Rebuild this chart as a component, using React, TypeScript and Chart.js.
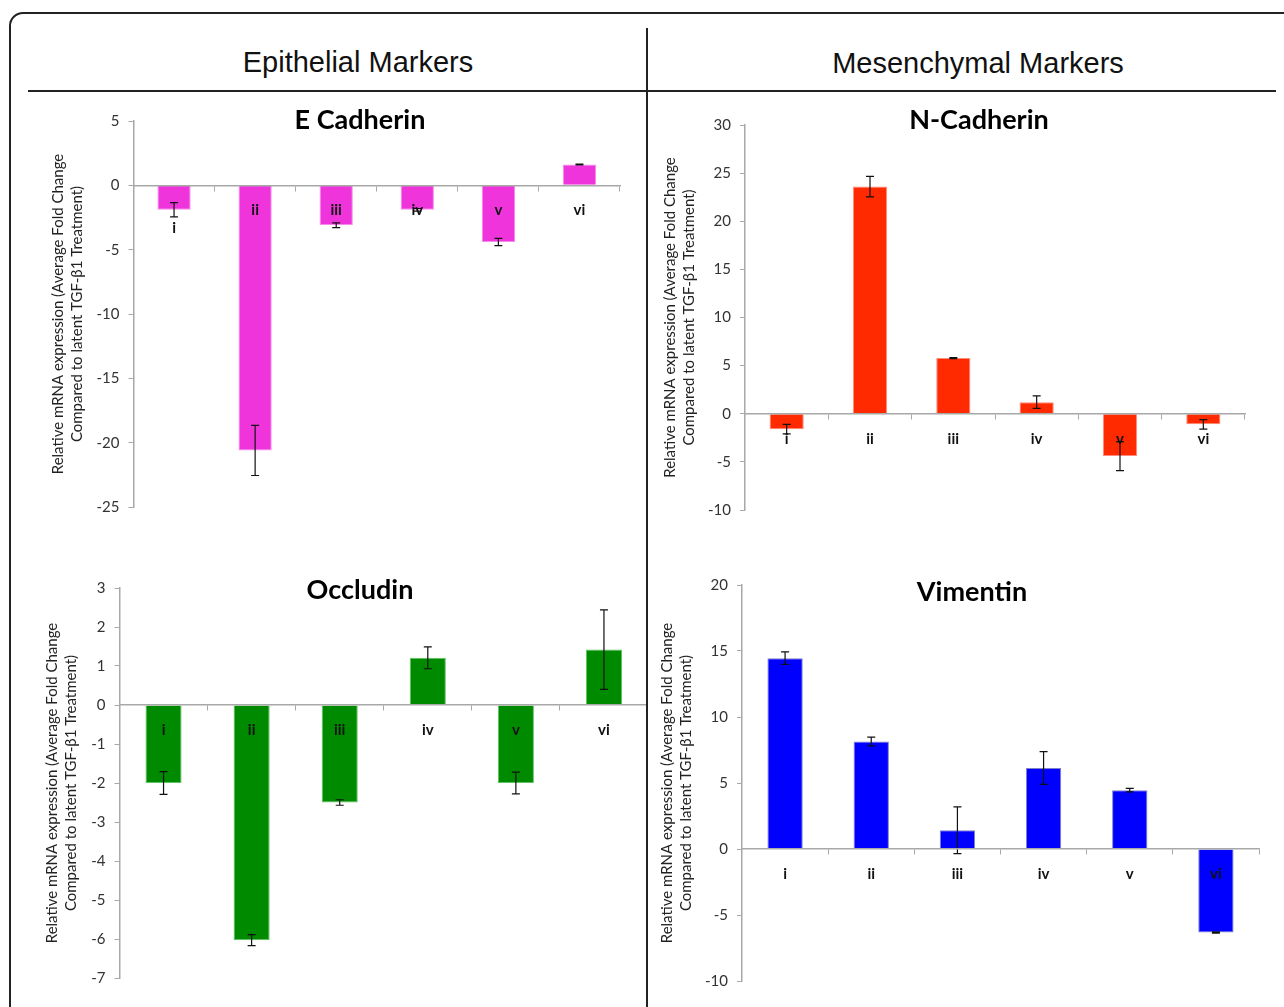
import React, { useEffect, useRef } from 'react';
import { Chart, registerables } from 'chart.js';

Chart.register(...registerables);

// ---------- data ----------
const categories = ['i', 'ii', 'iii', 'iv', 'v', 'vi'];
const eCadherinTickLabels: (string | string[])[] = [['', 'i'], 'ii', 'iii', 'iv', 'v', 'vi'];

const eCadherinValues = [-1.9, -20.6, -3.1, -1.9, -4.4, 1.62];
const eCadherinErrors = [0.55, 1.95, 0.18, 0.1, 0.28, 0.03];

const nCadherinValues = [-1.6, 23.6, 5.78, 1.2, -4.4, -1.1];
const nCadherinErrors = [0.5, 1.07, 0.05, 0.65, 1.5, 0.5];

const occludinValues = [-2.0, -6.03, -2.5, 1.21, -2.0, 1.42];
const occludinErrors = [0.29, 0.14, 0.07, 0.28, 0.28, 1.02];

const vimentinValues = [14.46, 8.15, 1.42, 6.13, 4.46, -6.33];
const vimentinErrors = [0.48, 0.33, 1.77, 1.24, 0.13, 0.05];

const yAxisTitle = [
  'Relative mRNA expression (Average Fold Change',
  'Compared to latent TGF-\u03B21 Treatment)',
];

const FONT = 'Lato, "Open Sans", sans-serif';

const errorBarPlugin = {
  id: 'errorBars',
  afterDatasetsDraw(chart: any, _args: any, opts: any) {
    const errs: number[] = opts && opts.errors;
    if (!errs) return;
    const meta = chart.getDatasetMeta(0);
    const yScale = chart.scales.y;
    const ctx = chart.ctx;
    const vals = chart.data.datasets[0].data as number[];
    ctx.save();
    ctx.strokeStyle = '#111';
    ctx.lineWidth = 1.2;
    meta.data.forEach((bar: any, i: number) => {
      const v = vals[i];
      const e = errs[i];
      const x = bar.x;
      const y1 = yScale.getPixelForValue(v + e);
      const y2 = yScale.getPixelForValue(v - e);
      ctx.beginPath();
      ctx.moveTo(x, y1);
      ctx.lineTo(x, y2);
      ctx.moveTo(x - 4, y1);
      ctx.lineTo(x + 4, y1);
      ctx.moveTo(x - 4, y2);
      ctx.lineTo(x + 4, y2);
      ctx.stroke();
    });
    ctx.restore();
  },
};

type Spec = {
  labels: (string | string[])[];
  values: number[];
  errors: number[];
  min: number;
  max: number;
  step: number;
  color: string;
  border: string;
  left: number;
  top: number;
  width: number;
  height: number;
  padding: { top: number; right: number; bottom: number; left: number };
  yWidth: number;
  titlePad: number;
};

function BarPanel({ spec }: { spec: Spec }) {
  const ref = useRef<HTMLCanvasElement | null>(null);
  useEffect(() => {
    if (!ref.current) return;
    const axisGrey = '#a8a8a8';
    const chart = new Chart(ref.current, {
      type: 'bar',
      data: {
        labels: spec.labels as any,
        datasets: [
          {
            data: spec.values,
            backgroundColor: spec.color,
            borderColor: spec.border,
            borderWidth: 1,
            barPercentage: 0.41,
            categoryPercentage: 1,
          },
        ],
      },
      plugins: [errorBarPlugin as any],
      options: {
        animation: false,
        responsive: false,
        maintainAspectRatio: false,
        layout: { padding: spec.padding },
        plugins: {
          legend: { display: false },
          tooltip: { enabled: false },
          title: { display: false },
          errorBars: { errors: spec.errors },
        } as any,
        scales: {
          x: {
            position: { y: 0 } as any,
            grid: {
              offset: true,
              drawOnChartArea: false,
              drawTicks: true,
              tickLength: 5,
              color: axisGrey,
              z: 1,
            },
            border: { color: axisGrey, width: 1.5, z: 1 },
            ticks: {
              z: 2,
              padding: 11,
              color: '#111',
              autoSkip: false,
              maxRotation: 0,
              font: { family: FONT, size: 15, weight: 'bold' },
            },
          },
          y: {
            min: spec.min,
            max: spec.max,
            ticks: {
              stepSize: spec.step,
              padding: 9,
              color: '#333',
              font: { family: FONT, size: 15 },
            },
            grid: { drawOnChartArea: false, tickLength: 5, color: axisGrey },
            border: { color: axisGrey, width: 1.5 },
            title: {
              display: true,
              text: yAxisTitle,
              color: '#222',
              padding: { top: spec.titlePad, bottom: 0 },
              font: { family: FONT, size: 15, lineHeight: 1.27 },
            },
            afterFit: (scale: any) => {
              scale.width = spec.yWidth;
            },
          },
        },
      } as any,
    });
    return () => chart.destroy();
  }, [spec]);
  return (
    <canvas
      ref={ref}
      width={spec.width}
      height={spec.height}
      style={{
        position: 'absolute',
        left: spec.left,
        top: spec.top,
        width: spec.width,
        height: spec.height,
      }}
    />
  );
}

const eSpec: Spec = {
  labels: eCadherinTickLabels,
  values: eCadherinValues,
  errors: eCadherinErrors,
  min: -25,
  max: 5,
  step: 5,
  color: '#F034DC',
  border: '#F68AE9',
  left: 28,
  top: 95,
  width: 612,
  height: 440,
  padding: { top: 26, right: 20, bottom: 28, left: 0 },
  yWidth: 105.5,
  titlePad: 20.5,
};

const nSpec: Spec = {
  labels: categories,
  values: nCadherinValues,
  errors: nCadherinErrors,
  min: -10,
  max: 30,
  step: 5,
  color: '#FF2A00',
  border: '#FF8A78',
  left: 650,
  top: 95,
  width: 620,
  height: 440,
  padding: { top: 30, right: 25, bottom: 25, left: 0 },
  yWidth: 95,
  titlePad: 10.5,
};

const oSpec: Spec = {
  labels: categories,
  values: occludinValues,
  errors: occludinErrors,
  min: -7,
  max: 3,
  step: 1,
  color: '#008A00',
  border: '#5FC45F',
  left: 28,
  top: 560,
  width: 620,
  height: 440,
  padding: { top: 28, right: 0, bottom: 22, left: 0 },
  yWidth: 91.5,
  titlePad: 14.5,
};

const vSpec: Spec = {
  labels: categories,
  values: vimentinValues,
  errors: vimentinErrors,
  min: -10,
  max: 20,
  step: 5,
  color: '#0000FF',
  border: '#8080C8',
  left: 650,
  top: 560,
  width: 620,
  height: 440,
  padding: { top: 25, right: 11, bottom: 19, left: 0 },
  yWidth: 92,
  titlePad: 7.5,
};

const titleStyle = (x: number, y: number): React.CSSProperties => ({
  position: 'absolute',
  left: x,
  top: y,
  transform: 'translate(-50%, -50%)',
  fontFamily: FONT,
  fontWeight: 'bold',
  fontSize: 27,
  color: '#000',
  whiteSpace: 'nowrap',
  lineHeight: 1,
});

const headerStyle = (x: number, y: number): React.CSSProperties => ({
  position: 'absolute',
  left: x,
  top: y,
  transform: 'translate(-50%, -50%)',
  fontFamily: '"Liberation Sans", Arial, sans-serif',
  fontSize: 29,
  color: '#111',
  whiteSpace: 'nowrap',
  lineHeight: 1,
});

export default function App() {
  return (
    <div
      style={{
        position: 'absolute',
        left: 0,
        top: 0,
        width: 1284,
        height: 1007,
        overflow: 'hidden',
        background: '#fff',
      }}
    >
      {/* outer rounded frame */}
      <div
        style={{
          position: 'absolute',
          left: 9,
          top: 12,
          width: 1400,
          height: 1200,
          border: '2px solid #222',
          borderRadius: 14,
          boxSizing: 'border-box',
        }}
      />
      {/* header rule */}
      <div style={{ position: 'absolute', left: 28, top: 90, width: 1248, height: 2, background: '#222' }} />

      <div style={headerStyle(358, 62)}>Epithelial Markers</div>
      <div style={headerStyle(978, 63)}>Mesenchymal Markers</div>

      <BarPanel spec={eSpec} />
      <BarPanel spec={nSpec} />
      <BarPanel spec={oSpec} />
      <BarPanel spec={vSpec} />

      {/* vertical divider (drawn above the charts) */}
      <div style={{ position: 'absolute', left: 646, top: 28, width: 2, height: 1000, background: '#222' }} />

      <div style={titleStyle(360, 118)}>E Cadherin</div>
      <div style={titleStyle(979, 118)}>N-Cadherin</div>
      <div style={titleStyle(360, 588)}>Occludin</div>
      <div style={titleStyle(972, 590)}>Vimentin</div>
    </div>
  );
}
